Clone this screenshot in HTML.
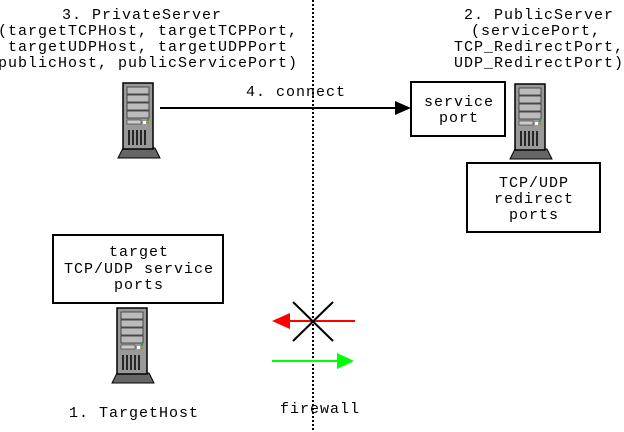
<!DOCTYPE html>
<html><head><style>
html,body{margin:0;padding:0;background:#fff;}
svg{display:block;}
text{font-family:"Liberation Mono",monospace;font-size:15px;letter-spacing:1px;fill:#000;}
</style></head><body>
<svg width="624" height="432" viewBox="0 0 624 432" xmlns="http://www.w3.org/2000/svg">
<defs>
<g id="srv">
  <polygon points="0,76 5,66 37,66 42,76" fill="#666" stroke="#000" stroke-width="1"/>
  <rect x="5" y="1" width="30" height="66" fill="#999" stroke="#000" stroke-width="1.5"/>
  <rect x="9" y="5" width="22" height="7" fill="#bbb" stroke="#333" stroke-width="0.8"/>
  <rect x="9" y="13" width="22" height="7" fill="#bbb" stroke="#333" stroke-width="0.8"/>
  <rect x="9" y="21" width="22" height="7" fill="#bbb" stroke="#333" stroke-width="0.8"/>
  <rect x="9" y="29" width="22" height="7" fill="#bbb" stroke="#333" stroke-width="0.8"/>
  <rect x="9" y="38" width="14" height="4" fill="#ccc" stroke="#333" stroke-width="0.6"/>
  <rect x="25" y="39" width="3" height="3" fill="#fff"/>
  <rect x="29" y="37" width="2" height="2" fill="#2a2"/>
  <rect x="29" y="40" width="2" height="2" fill="#a82"/>
  <g stroke="#000" stroke-width="1.5">
    <line x1="11" y1="48" x2="11" y2="63"/><line x1="15" y1="48" x2="15" y2="63"/>
    <line x1="19" y1="48" x2="19" y2="63"/><line x1="23" y1="48" x2="23" y2="63"/>
    <line x1="27" y1="48" x2="27" y2="63"/>
  </g>
</g>
</defs>
<line x1="313" y1="0" x2="313" y2="432" stroke="#000" stroke-width="2" stroke-dasharray="2,2"/>

<g text-anchor="middle">
<text x="142" y="19">3. PrivateServer</text>
<text x="148" y="35">(targetTCPHost, targetTCPPort,</text>
<text x="148" y="51">targetUDPHost, targetUDPPort</text>
<text x="148" y="67">publicHost, publicServicePort)</text>

<text x="539" y="19">2. PublicServer</text>
<text x="536" y="35">(servicePort,</text>
<text x="539" y="51">TCP_RedirectPort,</text>
<text x="539" y="67">UDP_RedirectPort)</text>

<text x="296" y="96">4. connect</text>

<text x="459" y="106">service</text>
<text x="459" y="122">port</text>

<text x="534" y="187">TCP/UDP</text>
<text x="534" y="203">redirect</text>
<text x="534" y="219">ports</text>

<text x="139" y="256">target</text>
<text x="139" y="273">TCP/UDP service</text>
<text x="139" y="289">ports</text>

<text x="134" y="417">1. TargetHost</text>
<text x="320" y="413">firewall</text>
</g>

<use href="#srv" x="118" y="82"/>
<use href="#srv" x="510" y="83"/>
<use href="#srv" x="112" y="307"/>

<rect x="411" y="82" width="94" height="54" fill="none" stroke="#000" stroke-width="2"/>
<rect x="467" y="163" width="133" height="69" fill="none" stroke="#000" stroke-width="2"/>
<rect x="53" y="235" width="170" height="68" fill="none" stroke="#000" stroke-width="2"/>

<line x1="160" y1="108" x2="398" y2="108" stroke="#000" stroke-width="2"/>
<polygon points="411,108 395,101 395,115" fill="#000"/>

<line x1="290" y1="321" x2="355" y2="321" stroke="#f00" stroke-width="2"/>
<polygon points="272,321 290,313 290,329" fill="#f00"/>
<line x1="293" y1="302" x2="333" y2="341" stroke="#000" stroke-width="2"/>
<line x1="333" y1="302" x2="293" y2="341" stroke="#000" stroke-width="2"/>

<line x1="272" y1="361" x2="340" y2="361" stroke="#0f0" stroke-width="2"/>
<polygon points="354,361 337,353 337,369" fill="#0f0"/>
</svg>
</body></html>
